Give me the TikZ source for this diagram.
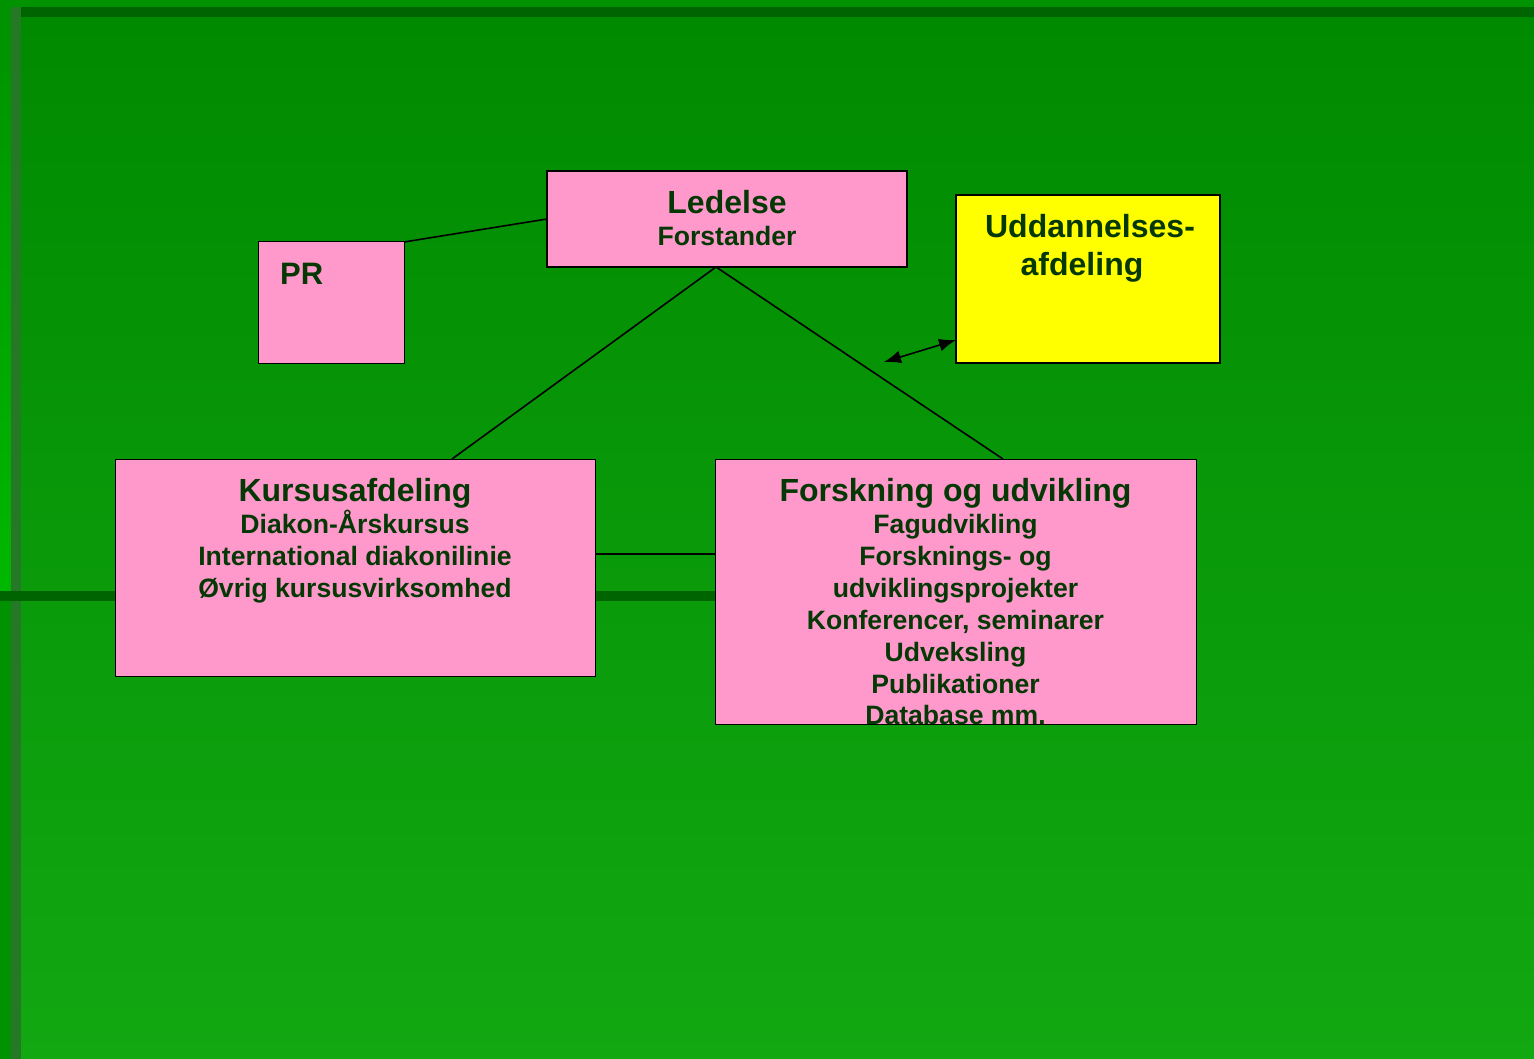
\documentclass[tikz,border=0pt]{standalone}
\usepackage{fontspec}
\setmainfont{Liberation Sans}
\usetikzlibrary{arrows.meta,calc}
\definecolor{pinkbox}{HTML}{FF99CC}
\definecolor{yelbox}{HTML}{FFFF00}
\definecolor{txt}{HTML}{063806}
\definecolor{outerg}{HTML}{009200}
\definecolor{bandg}{HTML}{006400}
\definecolor{leftband}{HTML}{257825}
\definecolor{bgtop}{HTML}{008A00}
\definecolor{bgbot}{HTML}{12A812}
\begin{document}
\begin{tikzpicture}[x=1pt,y=-1pt,
  boxp/.style={draw=black, fill=pinkbox, line width=1pt, inner sep=0pt, outer sep=0pt, anchor=north west},
  boxthick/.style={boxp, line width=2pt},
  ttl/.style={text=txt, font=\bfseries\fontsize{32}{38}\selectfont, inner sep=0pt, anchor=base},
  sub/.style={text=txt, font=\bfseries\fontsize{26.6}{32}\selectfont, inner sep=0pt, anchor=base},
  conn/.style={draw=black, line width=1.6pt},
  dblarrow/.style={{Latex[length=17pt,width=13pt]}-{Latex[length=17pt,width=13pt]}}]
\useasboundingbox (0,0) rectangle (1534,1059);
% background
\fill[outerg] (0,0) rectangle (1534,1059);
\shade[top color=bgtop, bottom color=bgbot] (11,17) rectangle (1534,1059);
\shade[top color=outerg, bottom color=green!72!black] (0,17) rectangle (11,591);
\fill[bandg] (11,7) rectangle (1534,17);
\fill[leftband] (11,7) rectangle (21,1059);
\fill[bandg] (0,591) rectangle (800,601);
% boxes
\node[boxthick, minimum width=360pt, minimum height=96pt] (led) at (547,171) {};
\node[boxp, minimum width=146pt, minimum height=121pt] (pr) at (258,242) {};
\node[boxthick, fill=yelbox, minimum width=264pt, minimum height=168pt] (udd) at (956,195) {};
\node[boxp, minimum width=480pt, minimum height=217pt] (kurs) at (115,459) {};
\node[boxp, minimum width=481pt, minimum height=265pt] (fors) at (715,459) {};
% connectors
\draw[conn] (pr.north east) -- (led.west);
\draw[conn] ([xshift=-11pt]led.south) -- ([xshift=97pt]kurs.north);
\draw[conn] ([xshift=-11pt]led.south) -- ([xshift=47.5pt]fors.north);
\draw[conn] ([yshift=13.5pt]kurs.east) -- ([yshift=13.5pt]kurs.east -| fors.west);
\coordinate (arrl) at (884,362);
\draw[conn, dblarrow] (arrl) -- ([yshift=-61pt]udd.west);
% texts
\node[ttl] (ledT) at (727,214) {Ledelse};
\node[sub] (ledS) at (727,246) {Forstander};
\node[ttl, anchor=base west, font=\bfseries\fontsize{31}{37}\selectfont] (prT) at (280,285) {PR};
\node[ttl] (uddT1) at (1090,238) {Uddannelses-};
\node[ttl] (uddT2) at (1082,276) {afdeling};
\node[ttl] (kursT) at (355,501) {Kursusafdeling};
\node[sub] (kurs1) at (355,533) {Diakon-Årskursus};
\node[sub] (kurs2) at (355,565) {International diakonilinie};
\node[sub] (kurs3) at (355,597) {Øvrig kursusvirksomhed};
\node[ttl] (forsT) at (955.5,501) {Forskning og udvikling};
\node[sub] (fors1) at (955.5,533) {Fagudvikling};
\node[sub] (fors2) at (955.5,565) {Forsknings- og};
\node[sub] (fors3) at (955.5,597) {udviklingsprojekter};
\node[sub] (fors4) at (955.5,629) {Konferencer, seminarer};
\node[sub] (fors5) at (955.5,661) {Udveksling};
\node[sub] (fors6) at (955.5,693) {Publikationer};
\node[sub] (fors7) at (955.5,724) {Database mm.};
\end{tikzpicture}
\end{document}
